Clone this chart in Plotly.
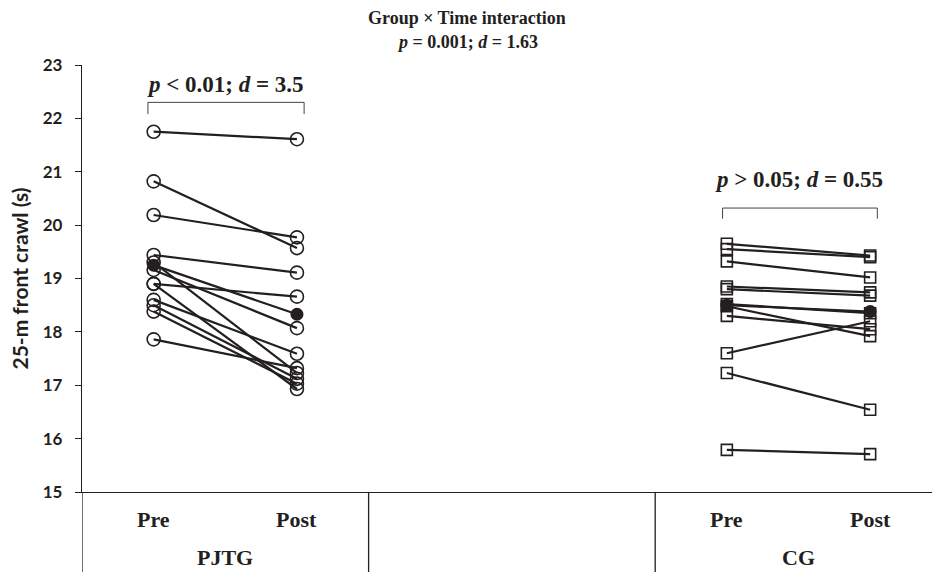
import plotly.graph_objects as go

# ---- data ----
pjtg_pre = [21.75, 20.82, 20.19, 19.44, 19.30, 19.16, 18.90, 18.90, 18.60, 18.50, 18.38, 17.86]
pjtg_post = [21.61, 19.57, 19.77, 19.11, 17.23, 18.07, 18.66, 16.93, 17.59, 17.12, 17.03, 17.32]
pjtg_mean = [19.25, 18.33]

cg_pre = [19.65, 19.55, 19.32, 18.85, 18.80, 18.52, 18.48, 18.30, 17.60, 17.23, 15.79]
cg_post = [19.43, 19.40, 19.02, 18.74, 18.68, 18.35, 17.92, 18.05, 18.20, 16.54, 15.71]
cg_mean = [18.50, 18.38]

time_labels = ["Pre", "Post"]
groups = ["PJTG", "CG"]
group_slots = [[0.5, 1.5], [4.5, 5.5]]
y_ticks = [15, 16, 17, 18, 19, 20, 21, 22, 23]

title_lines = ["<b>Group × Time interaction</b>", "<b><i>p</i> = 0.001; <i>d</i> = 1.63</b>"]
pjtg_stat = "<b><i>p</i> &lt; 0.01; <i>d</i> = 3.5</b>"
cg_stat = "<b><i>p</i> &gt; 0.05; <i>d</i> = 0.55</b>"

INK = "#231f20"
SERIF = "Liberation Serif"
SANS = "Lato"

fig = go.Figure()

def add_group(xs, pre, post, mean, sym, msize):
    for a, b in zip(pre, post):
        fig.add_trace(go.Scatter(
            x=xs, y=[a, b], mode="lines+markers",
            line=dict(color=INK, width=2.2),
            marker=dict(symbol=sym, size=msize, color=INK, line=dict(width=1.6, color=INK)),
            showlegend=False, hoverinfo="skip"))
    fig.add_trace(go.Scatter(
        x=xs, y=mean, mode="lines+markers",
        line=dict(color=INK, width=2.2),
        marker=dict(symbol="circle", size=13, color=INK),
        showlegend=False, hoverinfo="skip"))

add_group(group_slots[0], pjtg_pre, pjtg_post, pjtg_mean, "circle-open", 13)
add_group(group_slots[1], cg_pre, cg_post, cg_mean, "square-open", 11)

XMAX = 850 / 143.3
below = -80 / 427

shapes = []
for xv in [0, 2, 4]:
    shapes.append(dict(type="line", xref="x", yref="paper", x0=xv, x1=xv,
                       y0=0, y1=below, line=dict(color=INK, width=1.3)))
shapes.append(dict(type="path", xref="x", yref="y",
                   path="M 0.46,22.08 L 0.46,22.3 L 1.55,22.3 L 1.55,22.08",
                   line=dict(color="#444", width=1)))
shapes.append(dict(type="path", xref="x", yref="y",
                   path="M 4.47,20.12 L 4.47,20.32 L 5.55,20.32 L 5.55,20.12",
                   line=dict(color="#444", width=1)))

annotations = []
for slots in group_slots:
    for xv, lab in zip(slots, time_labels):
        annotations.append(dict(x=xv, y=0, xref="x", yref="paper", yanchor="middle",
                                yshift=-27, text=f"<b>{lab}</b>", showarrow=False,
                                font=dict(family=SERIF, size=22, color=INK)))
for slots, g in zip(group_slots, groups):
    annotations.append(dict(x=sum(slots) / 2, y=0, xref="x", yref="paper", yanchor="middle",
                            yshift=-65, text=f"<b>{g}</b>", showarrow=False,
                            font=dict(family=SERIF, size=22, color=INK)))
annotations.append(dict(x=1.0, y=22.63, xref="x", yref="y", text=pjtg_stat, showarrow=False,
                        font=dict(family=SERIF, size=23, color=INK)))
annotations.append(dict(x=5.0, y=20.85, xref="x", yref="y", text=cg_stat, showarrow=False,
                        font=dict(family=SERIF, size=23, color=INK)))
for i, t in enumerate(title_lines):
    annotations.append(dict(x=(467 - 82) / 850, y=1, xref="paper", yref="paper",
                            yanchor="middle", yshift=47 - 24 * i, text=t, showarrow=False,
                            font=dict(family=SERIF, size=18, color=INK)))

fig.update_layout(
    width=932, height=572,
    margin=dict(l=82, r=0, t=65, b=80),
    paper_bgcolor="white", plot_bgcolor="white",
    shapes=shapes, annotations=annotations,
    xaxis=dict(range=[0, XMAX], showgrid=False, zeroline=False, showticklabels=False,
               ticks="", showline=True, linecolor=INK, linewidth=1.3),
    yaxis=dict(range=[15, 23], tickvals=y_ticks, showgrid=False, zeroline=False,
               ticks="outside", ticklen=6, tickcolor=INK, showline=True,
               linecolor=INK, linewidth=1.3, ticklabelstandoff=9,
               tickfont=dict(family=SANS, size=17, color=INK, weight="bold"),
               title=dict(text="25-m front crawl (s)", standoff=8,
                          font=dict(family=SANS, size=21, color=INK, weight="bold"))),
)

fig.write_html("out.html")
